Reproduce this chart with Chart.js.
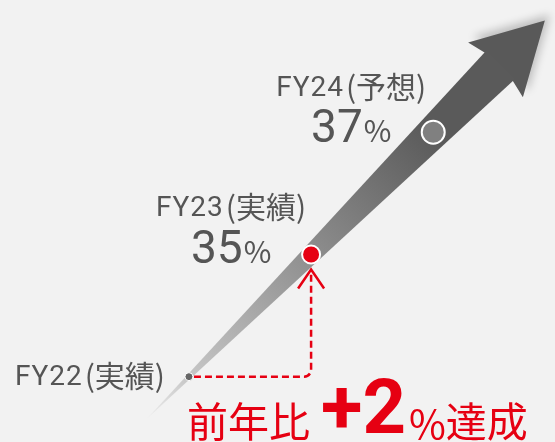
<!DOCTYPE html>
<html lang="ja">
<head>
<meta charset="utf-8">
<script src="https://cdn.jsdelivr.net/npm/chart.js@4.4.0/dist/chart.umd.min.js"></script>
<style>
  html, body { margin: 0; padding: 0; background: #f2f2f2; }
  #wrap { width: 555px; height: 442px; }
</style>
</head>
<body>
<div id="wrap"><canvas id="rate-chart" width="555" height="442"></canvas></div>
<script>
// data
const years = ["FY22", "FY23", "FY24"];
const yearNum = [22, 23, 24];
const kinds = ["(実績)", "(実績)", "(予想)"];
const rates = [33, 35, 37];
const rateLabels = [null, "35", "37"];
const gainParts = ["前年比", "+2", "%", "達成"];

const RED = "#e60012";
const GRAY = "#555555";
const LATIN = 'Roboto, "Noto Sans CJK JP", sans-serif';
const CJK = '"Noto Sans CJK JP", sans-serif';

// draw text with extra tracking, returns width
function spaced(ctx, str, x, y, sp, draw) {
	let cx = x;
	for (const ch of str) {
		if (draw) ctx.fillText(ch, cx, y);
		cx += ctx.measureText(ch).width + sp;
	}
	return cx - x - sp;
}

// "FY23 (実績)" style label: latin part + CJK part
function yearLabel(ctx, i, x, y, align) {
	const sp = 1;
	ctx.textAlign = "left";
	ctx.font = "28px " + LATIN;
	const w1 = spaced(ctx, years[i], 0, 0, sp, false);
	ctx.font = "30px " + CJK;
	const w2 = ctx.measureText(kinds[i]).width;
	const gap = 3;
	const total = w1 + gap + w2;
	let x0 = x;
	if (align === "center") x0 = x - total / 2;
	if (align === "right") x0 = x - total;
	ctx.font = "28px " + LATIN;
	spaced(ctx, years[i], x0, y, sp, true);
	ctx.font = "30px " + CJK;
	ctx.fillText(kinds[i], x0 + w1 + gap, y + 2);
}

// big tapered arrow + red dashed connector, drawn under the points
const arrowPlugin = {
	id: "arrow",
	beforeDatasetsDraw(chart) {
		const ctx = chart.ctx;
		const pts = chart.getDatasetMeta(0).data;
		const a = pts[0], m = pts[1], b = pts[2];
		const L = Math.hypot(b.x - a.x, b.y - a.y);
		const ux = (b.x - a.x) / L, uy = (b.y - a.y) / L;
		const nx = -uy, ny = ux;
		const at = (s, w) => [a.x + ux * s * L + nx * w * L, a.y + uy * s * L + ny * w * L];

		const tail = at(-0.17, 0);
		const notchL = at(1.268, -0.058), notchR = at(1.268, 0.058);
		const barbL = at(1.255, -0.112), barbR = at(1.255, 0.112);
		const tip = at(1.457, 0);

		ctx.save();
		// head with soft shadow
		ctx.shadowColor = "rgba(0,0,0,0.22)";
		ctx.shadowBlur = 8;
		ctx.shadowOffsetX = 5;
		ctx.shadowOffsetY = -6;
		ctx.fillStyle = "#595959";
		ctx.beginPath();
		ctx.moveTo(...notchL);
		ctx.lineTo(...barbL);
		ctx.lineTo(...tip);
		ctx.lineTo(...barbR);
		ctx.lineTo(...notchR);
		ctx.closePath();
		ctx.fill();
		ctx.restore();

		// shaft
		ctx.save();
		const g = ctx.createLinearGradient(tail[0], tail[1], b.x, b.y);
		g.addColorStop(0, "#ececec");
		g.addColorStop(0.145, "#c6c6c6");
		g.addColorStop(0.573, "#8e8e8e");
		g.addColorStop(1, "#5a5a5a");
		ctx.fillStyle = g;
		const endL = at(1.275, -0.058), endR = at(1.275, 0.058);
		ctx.beginPath();
		ctx.moveTo(...tail);
		ctx.lineTo(...notchL);
		ctx.lineTo(...endL);
		ctx.lineTo(...endR);
		ctx.lineTo(...notchR);
		ctx.closePath();
		ctx.fill();
		ctx.restore();

		// dashed connector FY22 -> FY23
		ctx.save();
		ctx.strokeStyle = RED;
		ctx.lineWidth = 2.5;
		ctx.setLineDash([7, 4]);
		const r = 7;
		ctx.beginPath();
		ctx.moveTo(a.x + 5, a.y);
		ctx.lineTo(m.x - r, a.y);
		ctx.arcTo(m.x, a.y, m.x, a.y - r, r);
		ctx.lineTo(m.x, m.y + 17);
		ctx.stroke();
		ctx.setLineDash([]);
		ctx.beginPath();
		ctx.moveTo(m.x - 13, m.y + 34);
		ctx.lineTo(m.x, m.y + 15);
		ctx.lineTo(m.x + 13, m.y + 34);
		ctx.stroke();
		ctx.restore();
	},
	afterDraw(chart) {
		const ctx = chart.ctx;
		const pts = chart.getDatasetMeta(0).data;
		ctx.save();
		ctx.fillStyle = GRAY;
		ctx.textBaseline = "alphabetic";

		// FY22 label to the left of its point
		yearLabel(ctx, 0, pts[0].x - 24, pts[0].y + 8, "right");

		// FY23 / FY24 labels above-left of points
		const offs = [null, { dx: -80, ly: -38, vy: 9 }, { dx: -82, ly: -36, vy: 9.5 }];
		for (let i = 1; i < years.length; i++) {
			const p = pts[i], o = offs[i];
			const cx = p.x + o.dx;
			yearLabel(ctx, i, cx, p.y + o.ly, "center");

			ctx.textAlign = "left";
			ctx.font = "46px " + LATIN;
			const w1 = ctx.measureText(rateLabels[i]).width;
			ctx.font = "30px " + CJK;
			const w2 = ctx.measureText("%").width;
			const x0 = cx - (w1 + w2 + 1) / 2;
			ctx.font = "46px " + LATIN;
			ctx.fillText(rateLabels[i], x0, p.y + o.vy);
			ctx.font = "30px " + CJK;
			ctx.fillText("%", x0 + w1 + 1, p.y + o.vy);
		}

		// bottom caption
		ctx.fillStyle = RED;
		ctx.textAlign = "left";
		let x = 187;
		ctx.font = "41px " + CJK;
		ctx.fillText(gainParts[0], x, 437);
		x += ctx.measureText(gainParts[0]).width + 11;
		ctx.font = "bold 76px " + LATIN;
		ctx.fillText(gainParts[1], x, 433);
		x += ctx.measureText(gainParts[1]).width + 3;
		ctx.font = "40px " + CJK;
		ctx.fillText(gainParts[2], x, 439);
		x += ctx.measureText(gainParts[2]).width;
		ctx.font = "41px " + CJK;
		ctx.fillText(gainParts[3], x, 437);
		ctx.restore();
	},
};

const chart = new Chart(document.getElementById("rate-chart"), {
	type: "scatter",
	data: {
		datasets: [
			{
				data: yearNum.map((x, i) => ({ x: x, y: rates[i] })),
				showLine: false,
				pointRadius: [4, 9, 11.5],
				pointBackgroundColor: ["#666666", RED, "#808080"],
				pointBorderColor: "#ffffff",
				pointBorderWidth: [1, 2, 2],
				clip: false,
			},
		],
	},
	options: {
		responsive: false,
		animation: false,
		events: [],
		layout: { padding: 0, autoPadding: false },
		plugins: { legend: { display: false }, tooltip: { enabled: false } },
		scales: {
			x: { type: "linear", min: 20.453, max: 24.997, display: false },
			y: { type: "linear", min: 31.931, max: 39.165, display: false },
		},
	},
	plugins: [arrowPlugin],
});
</script>
</body>
</html>
